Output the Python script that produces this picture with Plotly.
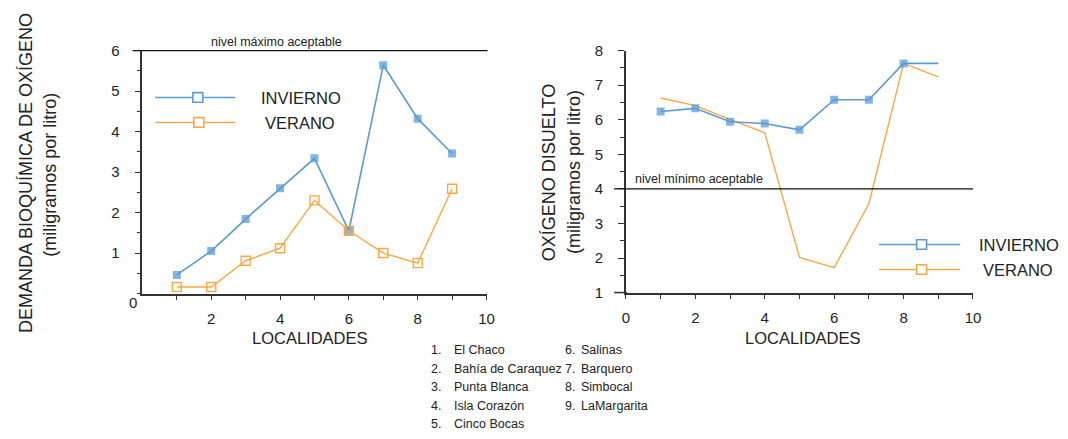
import plotly.graph_objects as go

# ---------------- data ----------------
localidades = [1, 2, 3, 4, 5, 6, 7, 8, 9]
dbo_invierno = [0.46, 1.05, 1.84, 2.60, 3.34, 1.55, 5.64, 4.32, 3.46]
dbo_verano = [0.16, 0.16, 0.81, 1.12, 2.30, 1.55, 1.00, 0.75, 2.59]
od_invierno = [6.24, 6.33, 5.94, 5.89, 5.71, 6.58, 6.58, 7.63, 7.63]
od_verano = [6.63, 6.41, 6.01, 5.62, 2.02, 1.72, 3.57, 7.63, 7.24]
nombres = ["El Chaco", "Bahía de Caraquez", "Punta Blanca", "Isla Corazón",
           "Cinco Bocas", "Salinas", "Barquero", "Simbocal", "LaMargarita"]
dbo_max_aceptable = 6
od_min_aceptable = 4
x_ticks = [1, 2, 3, 4, 5, 6, 7, 8, 9, 10]

W, H = 1068, 439
BLUE = "#5B9BD5"
BLUE_FILL = "rgba(91,155,213,0.75)"
ORANGE = "#FFA640"
AXIS = "#333333"
TXT = "#222222"
FONT = "Liberation Sans, Arial, sans-serif"

# plot areas in pixels (left, right, top, bottom)
L_AREA = (140, 488, 43.3, 296)
R_AREA = (629, 980, 43.3, 295)
L_XR, L_YR = [0, 10], [0, 6]
R_XR, R_YR = [0, 10], [1, 8]


def px(x):
    return x / W


def py(y):
    return 1 - y / H


def dom_x(a):
    return [px(a[0]), px(a[1])]


def dom_y(a):
    return [py(a[3]), py(a[2])]


def yval_to_paper(v, area, rng):
    d = dom_y(area)
    return d[0] + (v - rng[0]) / (rng[1] - rng[0]) * (d[1] - d[0])


fig = go.Figure()

# ---------- left chart ----------
fig.add_trace(go.Scatter(x=localidades, y=dbo_invierno, mode="lines+markers",
                         line=dict(color=BLUE, width=1.6),
                         marker=dict(symbol="square", size=8, color=BLUE_FILL,
                                     line=dict(width=0)),
                         xaxis="x", yaxis="y", showlegend=False))
fig.add_trace(go.Scatter(x=localidades, y=dbo_verano, mode="lines+markers",
                         line=dict(color=ORANGE, width=1.4),
                         marker=dict(symbol="square-open", size=9, color=ORANGE,
                                     line=dict(width=1.4)),
                         xaxis="x", yaxis="y", showlegend=False))

# ---------- right chart ----------
fig.add_trace(go.Scatter(x=localidades, y=od_verano, mode="lines",
                         line=dict(color=ORANGE, width=1.4),
                         xaxis="x2", yaxis="y2", showlegend=False))
fig.add_trace(go.Scatter(x=localidades, y=od_invierno, mode="lines",
                         line=dict(color=BLUE, width=1.6),
                         xaxis="x2", yaxis="y2", showlegend=False))
fig.add_trace(go.Scatter(x=localidades[:8], y=od_invierno[:8], mode="markers",
                         marker=dict(symbol="square", size=8, color=BLUE_FILL,
                                     line=dict(width=0)),
                         xaxis="x2", yaxis="y2", showlegend=False))

tick_font = dict(family=FONT, size=15, color=TXT)
ticktext_even = [str(v) if v % 2 == 0 else "" for v in x_ticks]

common_x = dict(showline=True, linecolor=AXIS, linewidth=1.5, ticks="outside",
                ticklen=5, tickwidth=1, tickcolor=AXIS, showgrid=False,
                zeroline=False, tickfont=tick_font,
                ticklabelstandoff=6)
common_y = dict(showline=True, linecolor=AXIS, linewidth=1.5, ticks="outside",
                ticklen=6, tickwidth=1, tickcolor=AXIS, showgrid=False,
                zeroline=False, tickfont=tick_font,
                ticklabelstandoff=12,
                minor=dict(dtick=0.5, ticks="outside", ticklen=4,
                           tickcolor=AXIS, tickwidth=1, showgrid=False))

fig.update_layout(
    width=W, height=H, autosize=False,
    margin=dict(l=0, r=0, t=0, b=0),
    paper_bgcolor="white", plot_bgcolor="white",
    hovermode=False,
    font=dict(family=FONT, color=TXT),
    xaxis=dict(domain=dom_x(L_AREA), range=L_XR, anchor="y",
               tickvals=x_ticks, ticktext=ticktext_even, **common_x),
    yaxis=dict(domain=dom_y(L_AREA), range=L_YR, anchor="x",
               tickvals=[1, 2, 3, 4, 5, 6], **common_y),
    xaxis2=dict(domain=dom_x(R_AREA), range=R_XR, anchor="y2",
                tickvals=[0] + x_ticks, ticktext=["0"] + ticktext_even,
                **common_x),
    yaxis2=dict(domain=dom_y(R_AREA), range=R_YR, anchor="x2",
                tickvals=[1, 2, 3, 4, 5, 6, 7, 8], **common_y),
)

shapes = []
annotations = []

# threshold lines
ym = yval_to_paper(dbo_max_aceptable, L_AREA, L_YR)
shapes.append(dict(type="line", xref="paper", yref="paper", x0=px(130), x1=px(489),
                   y0=ym, y1=ym, line=dict(color="#111111", width=1.3)))
yn = yval_to_paper(od_min_aceptable, R_AREA, R_YR)
shapes.append(dict(type="line", xref="paper", yref="paper", x0=px(617), x1=px(980),
                   y0=yn, y1=yn, line=dict(color="#111111", width=1.3)))
y1p = yval_to_paper(R_YR[0], R_AREA, R_YR)
shapes.append(dict(type="line", xref="paper", yref="paper", x0=px(617), x1=px(630),
                   y0=y1p, y1=y1p, line=dict(color=AXIS, width=1.5)))

annotations.append(dict(text="nivel máximo aceptable", xref="x", yref="y",
                        x=3.9, y=dbo_max_aceptable, yanchor="bottom", showarrow=False,
                        yshift=0, font=dict(size=12.5, family=FONT, color=TXT)))
annotations.append(dict(text="nivel mínimo aceptable", xref="x2", yref="y2",
                        x=2.1, y=od_min_aceptable, yanchor="bottom", showarrow=False,
                        yshift=1, font=dict(size=12.5, family=FONT, color=TXT)))

annotations.append(dict(text="0", xref="paper", yref="paper", x=px(130), y=py(305),
                        xanchor="center", yanchor="middle", showarrow=False,
                        font=tick_font))


def txt(s, x, y, size, xanchor="center", angle=0):
    annotations.append(dict(text=s, xref="paper", yref="paper", x=px(x), y=py(y),
                            xanchor=xanchor, yanchor="middle", showarrow=False,
                            textangle=angle,
                            font=dict(size=size, family=FONT, color=TXT)))


txt("DEMANDA BIOQUÍMICA DE OXÍGENO", 23, 171, 18, angle=-90)
txt("(miligramos por litro)", 47, 172, 18, angle=-90)
txt("OXÍGENO DISUELTO", 552, 170, 18, angle=-90)
txt("(miligramos por litro)", 577, 170, 18, angle=-90)
txt("LOCALIDADES", 309, 342, 16.5)
txt("LOCALIDADES", 808, 342, 16.5)


def legend_item(x0, x1, xm, y, color, label, xt):
    shapes.append(dict(type="line", xref="paper", yref="paper", x0=px(x0), x1=px(x1),
                       y0=py(y), y1=py(y), line=dict(color=color, width=1.6)))
    shapes.append(dict(type="rect", xref="paper", yref="paper",
                       x0=px(xm - 5), x1=px(xm + 5), y0=py(y + 5), y1=py(y - 5),
                       fillcolor="white", line=dict(color=color, width=1.6)))
    txt(label, xt, y + 1, 16.5, xanchor="left")


legend_item(153, 234, 196, 92, BLUE, "INVIERNO", 258)
legend_item(153, 234, 197, 118, ORANGE, "VERANO", 262)
legend_item(885, 967, 928, 245, BLUE, "INVIERNO", 984)
legend_item(885, 967, 928, 271, ORANGE, "VERANO", 988)

rows_y = [355, 374, 393, 413, 432]
for i, nombre in enumerate(nombres):
    col = 0 if i < 5 else 1
    row = i if i < 5 else i - 5
    xn = 430 if col == 0 else 565
    xt = 453 if col == 0 else 582
    txt(f"{localidades[i]}.", xn, rows_y[row], 12.5, xanchor="left")
    txt(nombre, xt, rows_y[row], 12.5, xanchor="left")

fig.update_layout(shapes=shapes, annotations=annotations)
fig.write_html("out.html", config={"displayModeBar": False},
               post_script="document.body.style.margin='0';")
